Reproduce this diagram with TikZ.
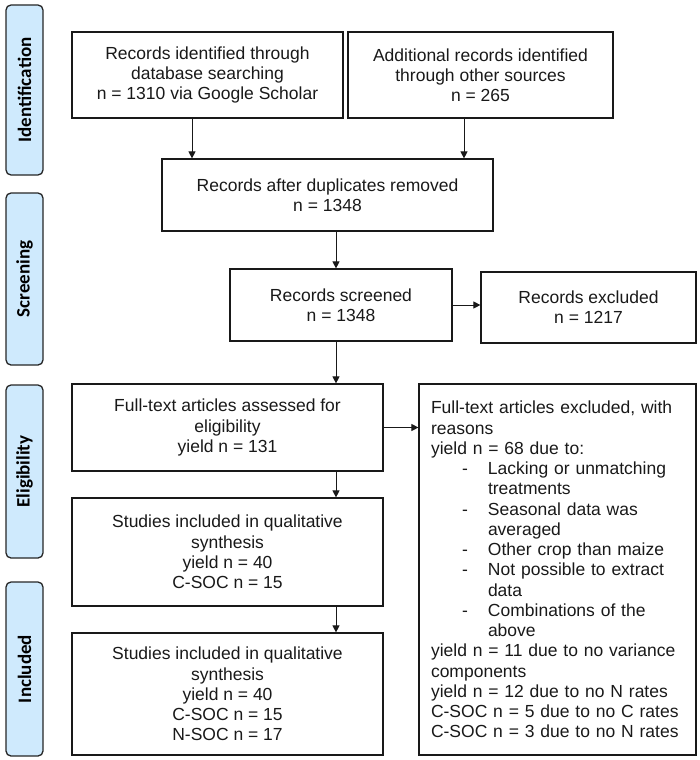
\documentclass[tikz,border=0pt]{standalone}
\usepackage{fontspec}
\setmainfont{Liberation Sans}
\newfontfamily\stagefont{Carlito}
\usetikzlibrary{arrows.meta}
\definecolor{stagefill}{RGB}{207,234,253}
\definecolor{ink}{RGB}{25,25,25}
\begin{document}
\begin{tikzpicture}[x=1pt,y=-1pt,
  box/.style={draw=ink, line width=1.2pt, inner sep=0pt, align=center, text=ink,
    font=\fontsize{17.5}{20.25}\selectfont},
  stage/.style={draw=black!85, fill=stagefill, line width=1.3pt, rounded corners=5pt,
    minimum height=37pt, inner sep=0pt, rotate=90, text=black,
    font=\stagefont\bfseries\fontsize{19}{22}\selectfont},
  arr/.style={-{Triangle[length=7pt,width=7pt]}, line width=1pt, draw=ink}]
\useasboundingbox (0,0) rectangle (700,760);
% stage labels
\node[stage, minimum width=170pt] (s1) at (24.5,90) {Identification};
\node[stage, minimum width=172pt] (s2) at (24.5,279) {Screening};
\node[stage, minimum width=173pt] (s3) at (24.5,471.5) {Eligibility};
\node[stage, minimum width=174pt] (s4) at (24.5,669) {Included};
% boxes
\node[box, minimum width=271pt, minimum height=86pt] (b1) at (207.5,75)
  {Records identified through\\database searching\\n = 1310 via Google Scholar};
\node[box, minimum width=265pt, minimum height=86pt] (b2) at (480.5,75)
  {Additional records identified\\through other sources\\n = 265};
\node[box, minimum width=331pt, minimum height=72pt] (b3) at (327.5,195)
  {Records after duplicates removed\\n = 1348};
\node[box, minimum width=222pt, minimum height=72pt] (b4) at (341,305)
  {Records screened\\n = 1348};
\node[box, minimum width=215pt, minimum height=71pt] (ex) at (588.5,307.5)
  {Records excluded\\n = 1217};
\node[box, minimum width=311pt, minimum height=87pt] (b5) at (227.5,427.5)
  {Full-text articles assessed for\\eligibility\\yield n = 131};
\node[box, minimum width=311pt, minimum height=108pt] (b6) at (227.5,552)
  {Studies included in qualitative\\synthesis\\yield n = 40\\C-SOC n = 15};
\node[box, minimum width=311pt, minimum height=122pt] (b7) at (227.5,694)
  {Studies included in qualitative\\synthesis\\yield n = 40\\C-SOC n = 15\\N-SOC n = 17};
\node[box, align=left, minimum width=277pt, minimum height=371pt, text width=253pt,
  inner xsep=12pt] (big) at (557.5,569.5)
  {Full-text articles excluded, with\\
   reasons\\
   yield n = 68 due to:\\
   \makebox[57pt][l]{\hspace*{31pt}-}Lacking or unmatching\\
   \hspace*{57pt}treatments\\
   \makebox[57pt][l]{\hspace*{31pt}-}Seasonal data was\\
   \hspace*{57pt}averaged\\
   \makebox[57pt][l]{\hspace*{31pt}-}Other crop than maize\\
   \makebox[57pt][l]{\hspace*{31pt}-}Not possible to extract\\
   \hspace*{57pt}data\\
   \makebox[57pt][l]{\hspace*{31pt}-}Combinations of the\\
   \hspace*{57pt}above\\
   yield n = 11 due to no variance\\
   components\\
   yield n = 12 due to no N rates\\
   C-SOC n = 5 due to no C rates\\
   C-SOC n = 3 due to no N rates};
% connectors
\coordinate (xa) at (192,0);
\coordinate (xb) at (464,0);
\coordinate (xc) at (336,0);
\draw[arr] (b1.south -| xa) -- (b3.north -| xa);
\draw[arr] (b2.south -| xb) -- (b3.north -| xb);
\draw[arr] (b3.south -| xc) -- (b4.north -| xc);
\draw[arr] (b4.east) -- (b4.east -| ex.west);
\draw[arr] (b4.south -| xc) -- (b5.north -| xc);
\draw[arr] (b5.east) -- (b5.east -| big.west);
\draw[arr] (b5.south -| xc) -- (b6.north -| xc);
\draw[arr] (b6.south -| xc) -- (b7.north -| xc);
\end{tikzpicture}
\end{document}
